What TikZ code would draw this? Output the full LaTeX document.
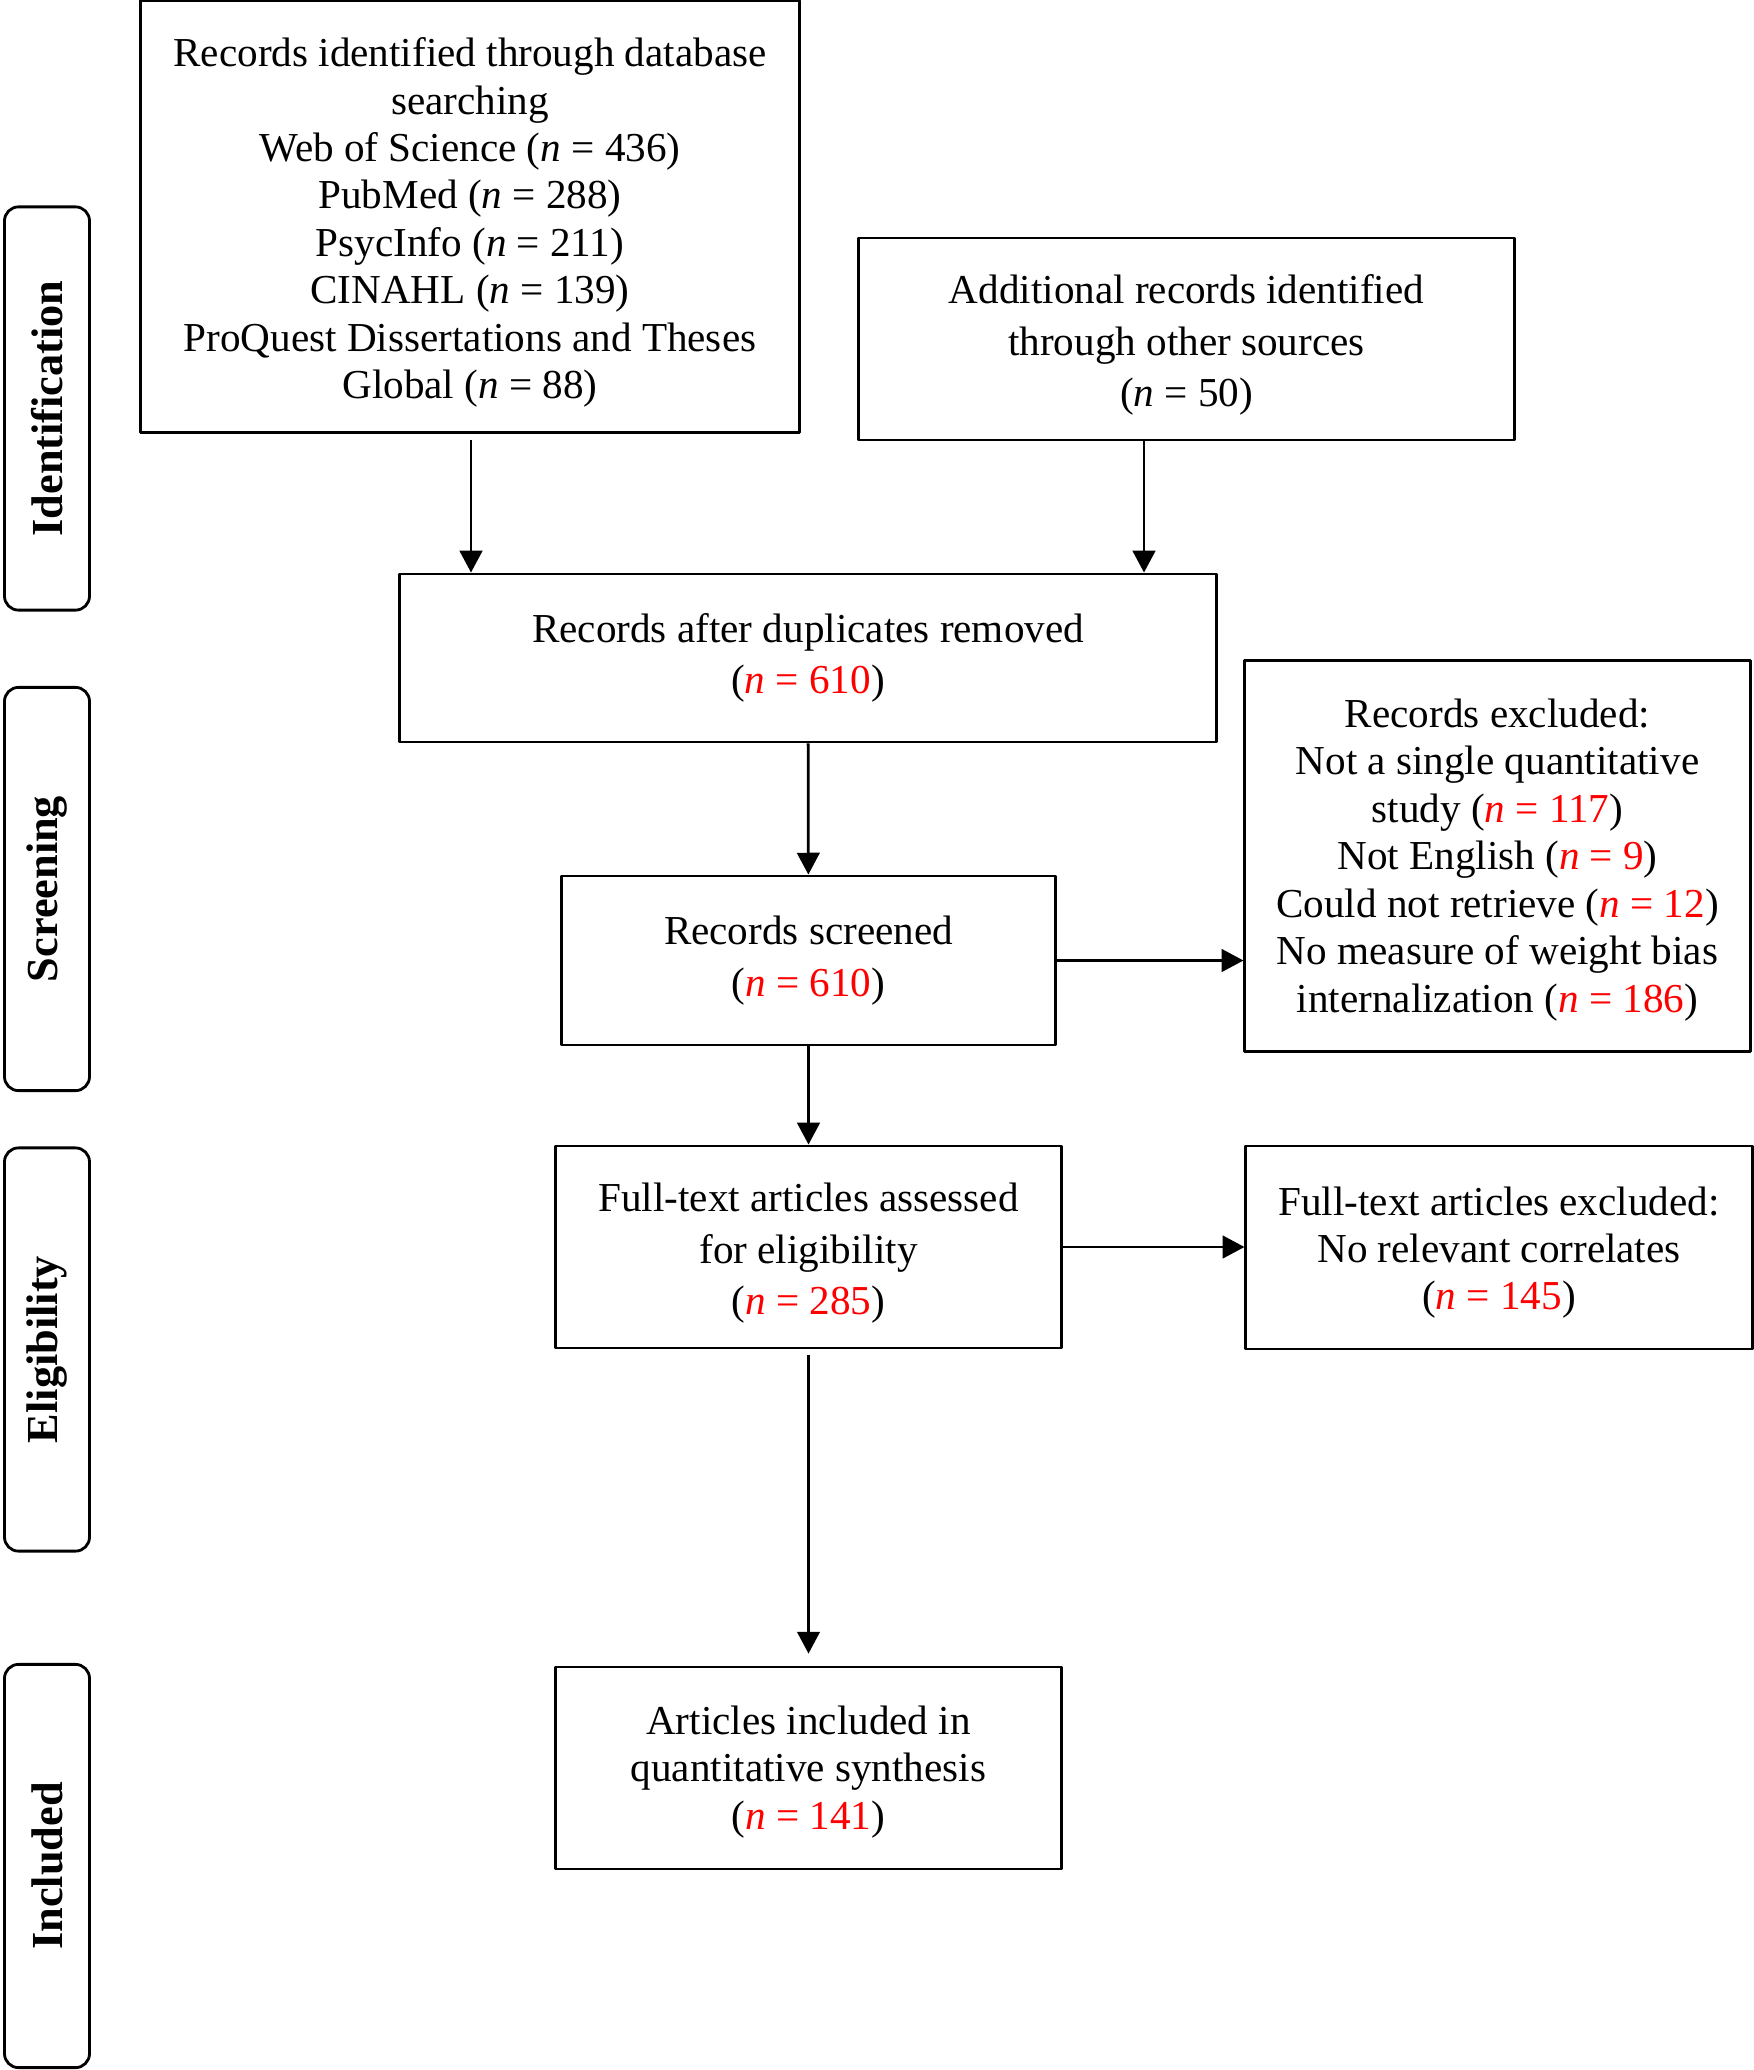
\documentclass[tikz,border=0pt]{standalone}
\usepackage{fontspec}
\setmainfont{Liberation Serif}
\usetikzlibrary{arrows.meta}
\newcommand{\nn}[1]{(\textcolor{red}{\textit{n} = #1})}
\newcommand{\lift}[1]{\rule{0pt}{#1}}
\tikzset{
  flowbox/.style={draw, line width=0.8pt, align=center, inner sep=0pt,
    font=\fontsize{11.7}{13.5}\selectfont},
  loose/.style={font=\fontsize{11.7}{14.6}\selectfont},
  phase/.style={draw, line width=0.8pt, rounded corners=4pt, rotate=90,
    minimum width=4.03cm, minimum height=0.85cm, inner sep=0pt,
    font=\fontsize{12.6}{14}\selectfont\bfseries},
  arr/.style={-{Triangle[length=6.2pt,width=6.4pt]}, line width=0.8pt}
}
\begin{document}
\begin{tikzpicture}[x=0.01cm, y=-0.01cm, line join=round]
\useasboundingbox (0,0) rectangle (1753,2070);
% phases
\node[phase] (ident) at (47,408.5) {Identification};
\node[phase] (screen) at (47,889) {Screening};
\node[phase] (elig) at (47,1349.5) {Eligibility};
\node[phase] (incl) at (47,1866) {Included};
% boxes
\node[flowbox, minimum width=6.58cm, minimum height=4.31cm] (db) at (470,216.5)
  {\lift{11.7pt}Records identified through database\\ searching\\ Web of Science (\textit{n} = 436)\\
   PubMed (\textit{n} = 288)\\ PsycInfo (\textit{n} = 211)\\ CINAHL (\textit{n} = 139)\\
   ProQuest Dissertations and Theses\\ Global (\textit{n} = 88)};
\node[flowbox, loose, minimum width=6.55cm, minimum height=2.02cm] (other) at (1186.5,339)
  {\lift{11.7pt}Additional records identified\\ through other sources\\ (\textit{n} = 50)};
\node[flowbox, loose, minimum width=8.16cm, minimum height=1.68cm] (dup) at (808,658)
  {Records after duplicates removed\\ \nn{610}};
\node[flowbox, minimum width=5.05cm, minimum height=3.90cm] (recex) at (1497.5,856)
  {\lift{10.3pt}Records excluded:\\ Not a single quantitative\\ study \nn{117}\\ Not English \nn{9}\\
   Could not retrieve \nn{12}\\ No measure of weight bias\\ internalization \nn{186}};
\node[flowbox, loose, minimum width=4.93cm, minimum height=1.69cm] (scr) at (808.5,960.5)
  {Records screened\\ \nn{610}};
\node[flowbox, loose, minimum width=5.05cm, minimum height=2.02cm] (full) at (808.5,1247)
  {\lift{11.7pt}Full-text articles assessed\\ for eligibility\\ \nn{285}};
\node[flowbox, minimum width=5.06cm, minimum height=2.03cm] (fullex) at (1499,1247.5)
  {\lift{11pt}Full-text articles excluded:\\ No relevant correlates\\ \nn{145}};
\node[flowbox, minimum width=5.05cm, minimum height=2.02cm] (incl) at (808.5,1768)
  {\lift{10.3pt}Articles included in\\ quantitative synthesis\\ \nn{141}};
% connectors
\coordinate (dbout) at (471,440);
\coordinate (otherout) at (1144,440);
\draw[arr] (dbout) -- (dbout |- dup.north);
\draw[arr] (otherout) -- (otherout |- dup.north);
\draw[arr] (dup) -- (scr);
\draw[arr] (scr.east) -- (scr.east -| recex.west);
\draw[arr] (scr) -- (full);
\draw[arr] (full.east) -- (full.east -| fullex.west);
\draw[arr, shorten <=1.7pt, shorten >=3.4pt] (full) -- (incl);
\end{tikzpicture}
\end{document}
